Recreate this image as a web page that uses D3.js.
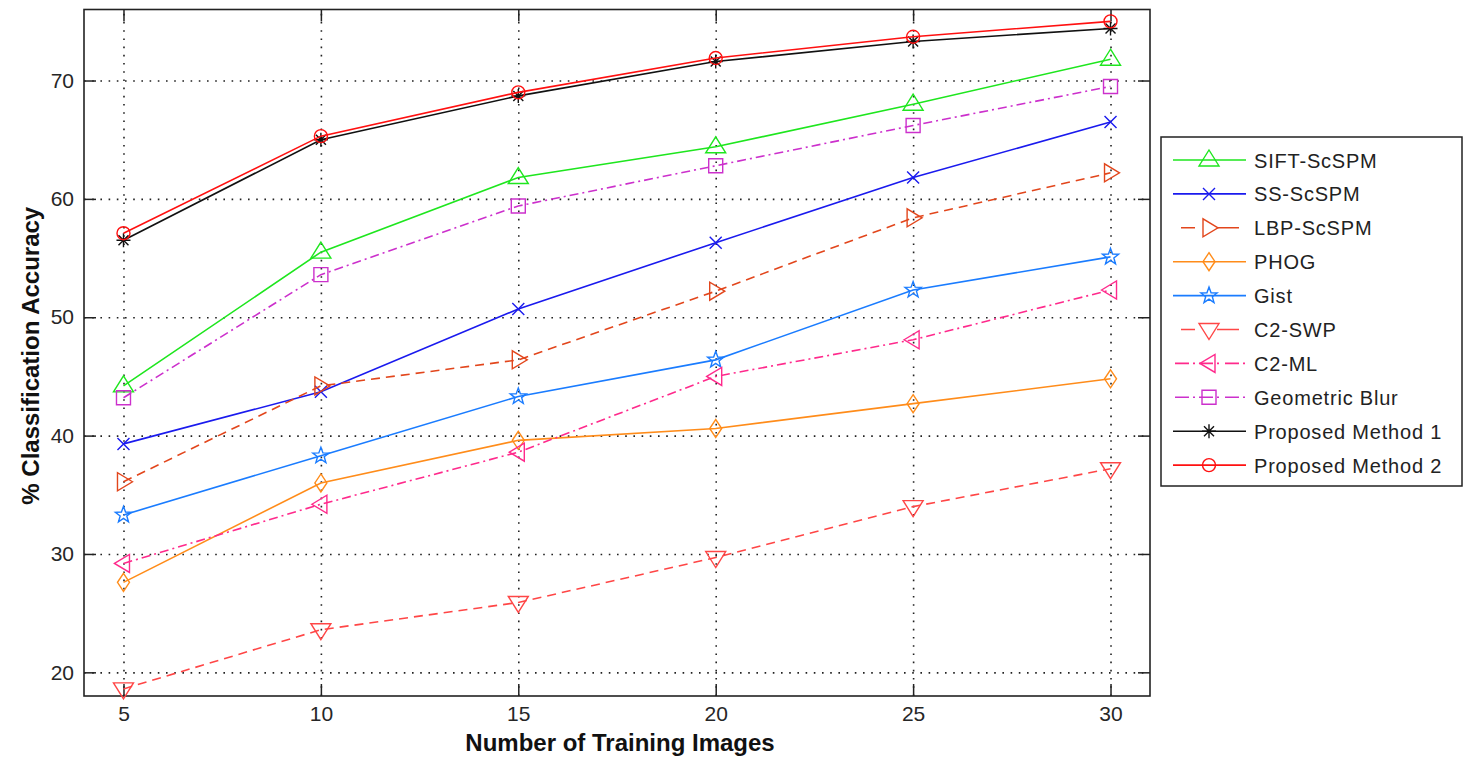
<!DOCTYPE html>
<html>
<head>
<meta charset="utf-8">
<script src="https://cdn.jsdelivr.net/npm/d3@7"></script>
<style>
  html, body { margin: 0; padding: 0; background: #fff; }
  svg { display: block; font-family: 'Liberation Sans', Arial, Helvetica, sans-serif; }
</style>
</head>
<body>
<div id="chart"></div>
<script>
// training images per class
const trainSizes = [5, 10, 15, 20, 25, 30]

const seriesNames = [
  'SIFT-ScSPM', 'SS-ScSPM', 'LBP-ScSPM', 'PHOG', 'Gist',
  'C2-SWP', 'C2-ML', 'Geometric Blur', 'Proposed Method 1', 'Proposed Method 2',
]

// % classification accuracy
const siftScspm = [44.2, 55.5, 61.8, 64.4, 68.0, 71.8]
const ssScspm = [39.3, 43.7, 50.7, 56.3, 61.8, 66.5]
const lbpScspm = [36.1, 44.2, 46.4, 52.2, 58.4, 62.2]
const phog = [27.6, 36.0, 39.6, 40.6, 42.7, 44.8]
const gist = [33.3, 38.3, 43.3, 46.4, 52.3, 55.1]
const c2Swp = [18.6, 23.6, 25.9, 29.7, 34.0, 37.2]
const c2Ml = [29.2, 34.2, 38.6, 45.0, 48.1, 52.3]
const geometricBlur = [43.2, 53.6, 59.4, 62.8, 66.2, 69.5]
const proposed1 = [56.5, 65.0, 68.7, 71.6, 73.3, 74.4]
const proposed2 = [57.1, 65.3, 69.0, 71.9, 73.7, 75.0]

const xTicks = [5, 10, 15, 20, 25, 30]
const yTicks = [20, 30, 40, 50, 60, 70]

const seriesValues = [siftScspm, ssScspm, lbpScspm, phog, gist, c2Swp, c2Ml, geometricBlur, proposed1, proposed2]

// styling per series (matlab-ish)
const seriesStyle = [
  { color: '#1ee61e', dash: null, marker: '^' },
  { color: '#1a1aee', dash: null, marker: 'x' },
  { color: '#e2461c', dash: '9,6', marker: '>' },
  { color: '#ff8c1a', dash: null, marker: 'd' },
  { color: '#1a7cff', dash: null, marker: 'p' },
  { color: '#ff4646', dash: '9,6', marker: 'v' },
  { color: '#ff2a8c', dash: '9,4,2,4', marker: '<' },
  { color: '#cc30cc', dash: '9,4,2,4', marker: 's' },
  { color: '#111111', dash: null, marker: '*' },
  { color: '#ff1010', dash: null, marker: 'o' },
]

const width = 1466
const height = 757
const plot = { left: 84, right: 1150, top: 9.5, bottom: 696 }

const x = d3.scaleLinear().domain([4, 31]).range([plot.left, plot.right])
const y = d3.scaleLinear().domain([18, 76]).range([plot.bottom, plot.top])

const svg = d3.select('#chart').append('svg').attr('width', width).attr('height', height)

/** =========================
 * 格線
 ========================= */
const gridGroup = svg.append('g').attr('class', 'grid')
gridGroup.append('g')
  .attr('transform', `translate(0,${plot.bottom})`)
  .call(d3.axisBottom(x).tickValues(xTicks).tickSize(-(plot.bottom - plot.top)).tickFormat(''))
gridGroup.append('g')
  .attr('transform', `translate(${plot.left},0)`)
  .call(d3.axisLeft(y).tickValues(yTicks).tickSize(-(plot.right - plot.left)).tickFormat(''))
gridGroup.selectAll('.domain').remove()
gridGroup.selectAll('line')
  .attr('stroke', '#222')
  .attr('stroke-width', 1.6)
  .attr('stroke-dasharray', '1.6,6.6')

/** =========================
 * 座標軸 (ticks inward on all four sides)
 ========================= */
const tickLen = 12
const axisGroup = svg.append('g').attr('class', 'axes')

const styleAxis = g => {
  g.attr('font-size', null).attr('font-family', null)
  g.select('.domain').remove()
  g.selectAll('line').attr('stroke', '#222').attr('stroke-width', 1.5)
  g.selectAll('text').attr('fill', '#262626').style('font-size', '21px')
}

axisGroup.append('g')
  .attr('transform', `translate(0,${plot.bottom})`)
  .call(d3.axisBottom(x).tickValues(xTicks).tickSizeInner(-tickLen).tickSizeOuter(0).tickPadding(10))
  .call(styleAxis)
axisGroup.append('g')
  .attr('transform', `translate(0,${plot.top})`)
  .call(d3.axisTop(x).tickValues(xTicks).tickSizeInner(-tickLen).tickSizeOuter(0).tickFormat(''))
  .call(styleAxis)
axisGroup.append('g')
  .attr('transform', `translate(${plot.left},0)`)
  .call(d3.axisLeft(y).tickValues(yTicks).tickSizeInner(-tickLen).tickSizeOuter(0).tickPadding(10))
  .call(styleAxis)
axisGroup.append('g')
  .attr('transform', `translate(${plot.right},0)`)
  .call(d3.axisRight(y).tickValues(yTicks).tickSizeInner(-tickLen).tickSizeOuter(0).tickFormat(''))
  .call(styleAxis)

axisGroup.append('rect')
  .attr('x', plot.left)
  .attr('y', plot.top)
  .attr('width', plot.right - plot.left)
  .attr('height', plot.bottom - plot.top)
  .attr('fill', 'none')
  .attr('stroke', '#222')
  .attr('stroke-width', 1.6)

// axis titles
svg.append('text')
  .attr('x', (plot.left + plot.right) / 2 + 3)
  .attr('y', 751)
  .attr('text-anchor', 'middle')
  .style('font-size', '24px')
  .style('font-weight', 'bold')
  .attr('fill', '#111')
  .text('Number of Training Images')

svg.append('text')
  .attr('transform', `translate(39,${(plot.top + plot.bottom) / 2 + 3}) rotate(-90)`)
  .attr('text-anchor', 'middle')
  .style('font-size', '24px')
  .style('font-weight', 'bold')
  .attr('fill', '#111')
  .text('% Classification Accuracy')

/** =========================
 * 標記形狀
 ========================= */
const pentagram = (ro, ri) => {
  const pts = d3.range(10).map(i => {
    const r = i % 2 === 0 ? ro : ri
    const a = -Math.PI / 2 + (i * Math.PI) / 5
    return [r * Math.cos(a), r * Math.sin(a)]
  })
  return 'M' + pts.map(p => p.join(',')).join('L') + 'Z'
}

const markerPath = {
  '^': 'M0,-10L10,6L-10,6Z',
  'v': 'M0,10L10,-6L-10,-6Z',
  '>': 'M9,0L-6,-9L-6,9Z',
  '<': 'M-9,0L6,-9L6,9Z',
  'd': 'M0,-9L6,0L0,9L-6,0Z',
  's': 'M-7,-7H7V7H-7Z',
  'x': 'M-6,-6L6,6M-6,6L6,-6',
  '*': 'M-7,0H7M0,-7V7M-5,-5L5,5M-5,5L5,-5',
  'p': pentagram(8.5, 3.5),
  'o': d3.arc()({ innerRadius: 0, outerRadius: 6.5, startAngle: 0, endAngle: 2 * Math.PI }),
}

const drawMarker = (g, marker, color) => {
  g.append('path')
    .attr('d', markerPath[marker])
    .attr('fill', 'none')
    .attr('stroke', color)
    .attr('stroke-width', 1.4)
}

/** =========================
 * 折線
 ========================= */
const line = d3.line().x(d => x(d[0])).y(d => y(d[1]))

const seriesGroup = svg.append('g').attr('class', 'series')
seriesValues.forEach((values, i) => {
  const style = seriesStyle[i]
  const points = trainSizes.map((t, j) => [t, values[j]])
  const g = seriesGroup.append('g')

  g.append('path')
    .datum(points)
    .attr('d', line)
    .attr('fill', 'none')
    .attr('stroke', style.color)
    .attr('stroke-width', 1.6)
    .attr('stroke-dasharray', style.dash)

  points.forEach(p => {
    const m = g.append('g').attr('transform', `translate(${x(p[0])},${y(p[1])})`)
    drawMarker(m, style.marker, style.color)
  })
})

/** =========================
 * 圖例
 ========================= */
const legend = { x: 1161, y: 137, w: 301, h: 349, rowTop: 160, rowStep: 33.9 }
const legendGroup = svg.append('g').attr('class', 'legend')

legendGroup.append('rect')
  .attr('x', legend.x)
  .attr('y', legend.y)
  .attr('width', legend.w)
  .attr('height', legend.h)
  .attr('fill', '#fff')
  .attr('stroke', '#222')
  .attr('stroke-width', 1.5)

seriesNames.forEach((name, i) => {
  const style = seriesStyle[i]
  const cy = legend.rowTop + i * legend.rowStep
  const row = legendGroup.append('g')

  row.append('line')
    .attr('x1', 1173)
    .attr('x2', 1246)
    .attr('y1', cy)
    .attr('y2', cy)
    .attr('stroke', style.color)
    .attr('stroke-width', 1.6)
    .attr('stroke-dasharray', style.dash ? (style.dash === '9,6' ? '0,8,14,22,14' : '0,2,14,4,2,4,14,4,2,4') : null)

  const m = row.append('g').attr('transform', `translate(1209,${cy})`)
  drawMarker(m, style.marker, style.color)

  row.append('text')
    .attr('x', 1254)
    .attr('y', cy + 7.5)
    .style('font-size', '20px')
    .style('letter-spacing', '0.8px')
    .attr('fill', '#222')
    .text(name)
})
</script>
</body>
</html>
